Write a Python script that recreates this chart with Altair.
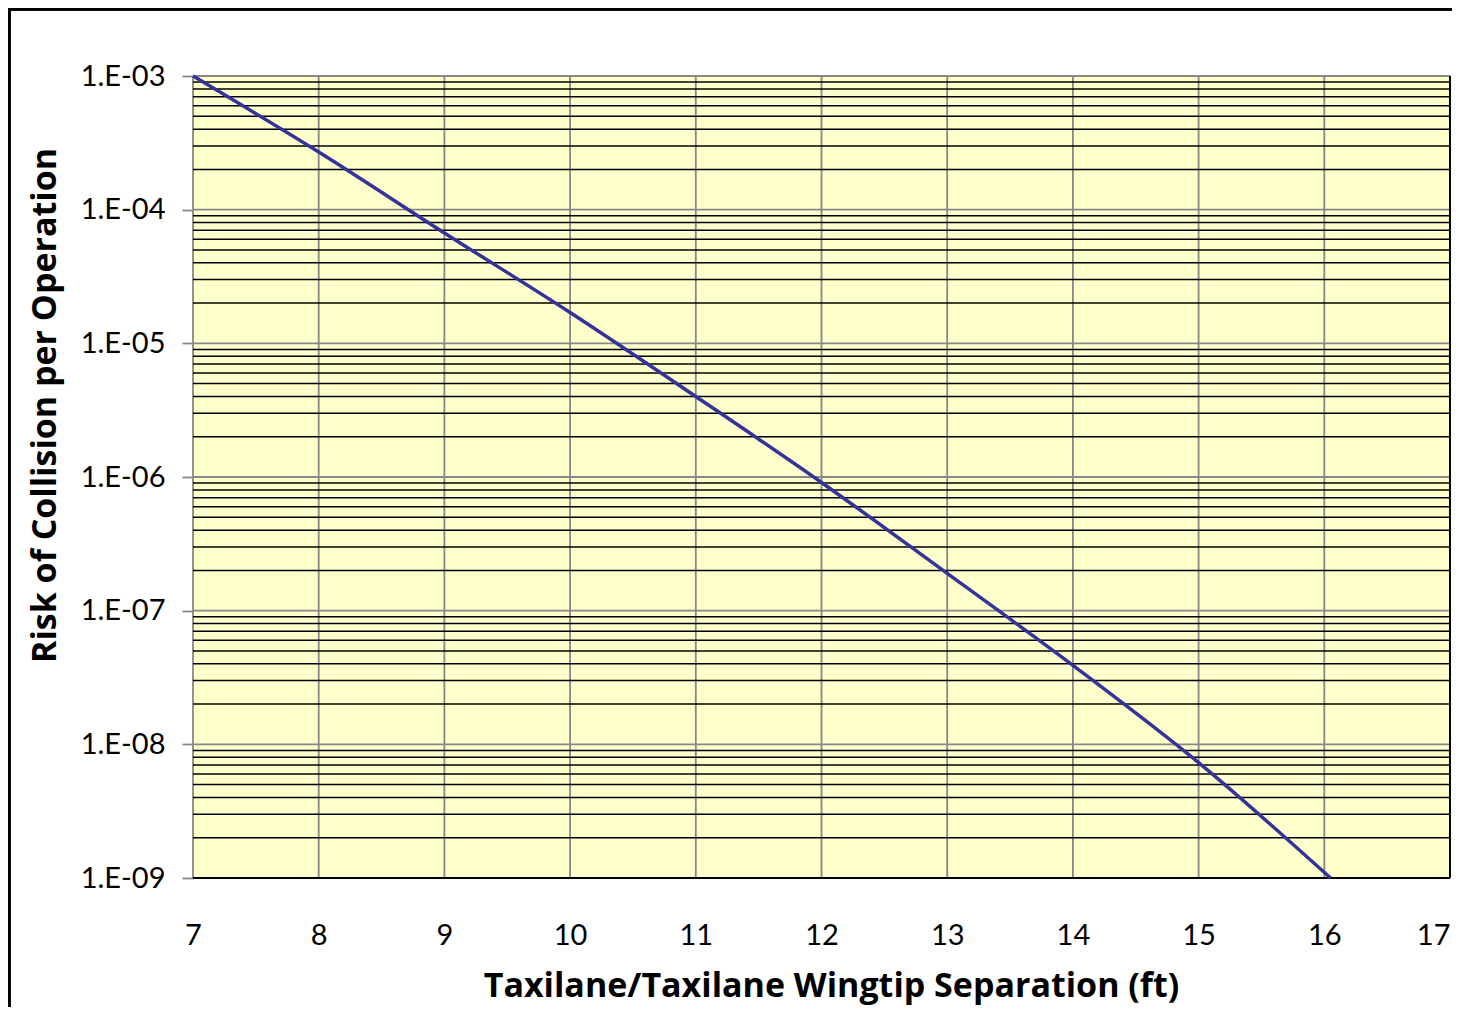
import altair as alt
import pandas as pd

# Data
sep_ft = [7, 8, 9, 10, 11, 12, 13, 14, 15, 16.05]
risk = [1.0e-3, 2.7e-4, 6.7e-5, 1.7e-5, 4.0e-6, 9.1e-7, 1.9e-7, 3.9e-8, 7.3e-9, 1.0e-9]
x_ticks = [7, 8, 9, 10, 11, 12, 13, 14, 15, 16, 17]
y_decades = [1e-3, 1e-4, 1e-5, 1e-6, 1e-7, 1e-8, 1e-9]
y_minor = [m * 10.0 ** e for e in range(-9, -3) for m in range(2, 10)]

FONT = "Lato"
TFONT = "Open Sans"
GRAY = "#878787"
W, H = 1257, 802

line_df = pd.DataFrame({"x": sep_ft, "y": risk})
minor_df = pd.DataFrame({"y": y_minor})
major_df = pd.DataFrame({"y": y_decades})
vert_df = pd.DataFrame({"x": x_ticks})
right_df = pd.DataFrame({"x": [x_ticks[-1]]})
bottom_df = pd.DataFrame({"y": [y_decades[-1]]})

xs = alt.Scale(domain=[7, 17], nice=False, zero=False)
ys = alt.Scale(type="log", domain=[1e-9, 1e-3], nice=False)

x_axis = alt.Axis(
    values=x_ticks,
    ticks=False,
    domain=False,
    grid=False,
    labelPadding=43,
    labelFont=FONT,
    labelFontSize=29,
    labelColor="black",
    labelFlush=False,
    labelOverlap=False,
    labelAlign=alt.condition("datum.value == 17", alt.value("right"), alt.value("center")),
    title="Taxilane/Taxilane Wingtip Separation (ft)",
    titleFont=TFONT,
    titleFontSize=34,
    titleFontWeight="bold",
    titleColor="black",
    titleX=638,
    titleY=118,
    titleAlign="center",
    titleBaseline="alphabetic",
)
y_axis = alt.Axis(
    values=y_decades,
    labelExpr="'1.E-0' + format(-round(log(datum.value) / LN10), 'd')",
    ticks=True,
    tickSize=11,
    tickColor=GRAY,
    tickWidth=1.8,
    domain=False,
    grid=False,
    labelPadding=17,
    labelFont=FONT,
    labelFontSize=29,
    labelColor="black",
    labelFlush=False,
    labelOverlap=False,
    title="Risk of Collision per Operation",
    titleFont=TFONT,
    titleFontSize=34,
    titleFontWeight="bold",
    titleColor="black",
    titleAngle=270,
    titleX=-138,
    titleY=329,
    titleAlign="center",
    titleBaseline="alphabetic",
)

minor = alt.Chart(minor_df).mark_rule(color="black", strokeWidth=1.5).encode(
    y=alt.Y("y:Q", scale=ys, axis=y_axis)
)
major = alt.Chart(major_df).mark_rule(color=GRAY, strokeWidth=1.8).encode(
    y=alt.Y("y:Q", scale=ys, axis=y_axis)
)
vert = alt.Chart(vert_df).mark_rule(color=GRAY, strokeWidth=1.8).encode(
    x=alt.X("x:Q", scale=xs, axis=x_axis)
)
right = alt.Chart(right_df).mark_rule(color="black", strokeWidth=2).encode(
    x=alt.X("x:Q", scale=xs, axis=x_axis)
)
bottom = alt.Chart(bottom_df).mark_rule(color="black", strokeWidth=2).encode(
    y=alt.Y("y:Q", scale=ys, axis=y_axis)
)

line = alt.Chart(line_df).mark_line(
    color="#333399", strokeWidth=3.5, interpolate="monotone"
).encode(
    x=alt.X("x:Q", scale=xs, axis=x_axis),
    y=alt.Y("y:Q", scale=ys, axis=y_axis),
)

frame = alt.Chart(line_df).mark_rect(filled=False, stroke="black", strokeWidth=2.5).encode(
    x=alt.value(-184), x2=alt.value(1290), y=alt.value(-67), y2=alt.value(960)
)

chart = (
    alt.layer(vert, major, minor, right, bottom, line, frame)
    .properties(
        width=W,
        height=H,
        autosize=alt.AutoSizeParams(type="none"),
        padding={"left": 185, "top": 68, "right": 2, "bottom": 129},
        background="white",
    )
    .configure_view(fill="#FFFFCC", stroke="transparent")
)

chart.save("out.html", embed_options={"renderer": "svg", "actions": False})
